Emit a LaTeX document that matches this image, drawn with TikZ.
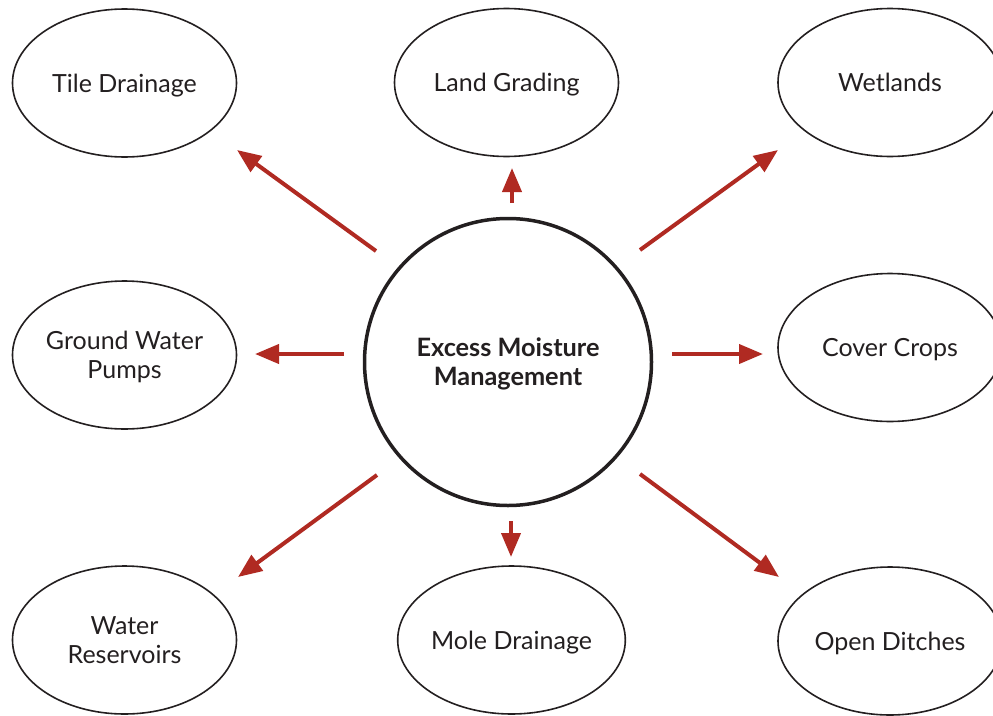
\documentclass[tikz,border=0pt]{standalone}
\usepackage{fontspec}
\setmainfont{Lato}
\usetikzlibrary{arrows.meta,shapes.geometric}
\definecolor{ink}{HTML}{231F20}
\definecolor{arrowred}{HTML}{B02A22}
\begin{document}
\begin{tikzpicture}[x=1pt,y=-1pt,
  option/.style={ellipse, draw=ink, line width=1.6pt, minimum width=224pt,
    minimum height=148pt, inner sep=0pt, align=center, text=ink,
    font=\fontsize{25}{29}\selectfont, text depth=0pt},
  hub/.style={circle, draw=ink, line width=3.5pt, minimum size=287pt,
    inner sep=0pt, align=center, text=ink,
    font=\bfseries\fontsize{25.3}{29}\selectfont, text depth=0pt},
  arr/.style={draw=arrowred, line width=4pt,
    -{Triangle[length=24pt,width=19pt]}}
]
\useasboundingbox (0,0) rectangle (993,715);
\clip (0,0) rectangle (993,715);

% central topic
\node[hub] (hub) at (508,362) {Excess Moisture\\Management};

% surrounding practices
\node[option] (tile)    at (124.5,83)   {Tile Drainage};
\node[option] (grading) at (506.5,82.5) {Land Grading};
\node[option] (wet)     at (890,82.5)   {Wetlands};
\node[option] (pumps)   at (124.5,355)  {Ground Water\\Pumps};
\node[option] (cover)   at (890,347.5)  {Cover Crops};
\node[option] (res)     at (124.5,640)  {Water\\Reservoirs};
\node[option] (mole)    at (511.5,640)  {Mole Drainage};
\node[option] (ditch)   at (890,641)    {Open Ditches};

% arrows from the hub outwards
\draw[arr] ([shift={(-132,-111)}]hub.center) -- ([shift={(112.5,67)}]tile.center);
\draw[arr] ([shift={(4,-159)}]hub.center)    -- ([shift={(5.5,85.5)}]grading.center);
\draw[arr] ([shift={(132,-112)}]hub.center)  -- ([shift={(-112,67.5)}]wet.center);
\draw[arr] ([shift={(-164,-8)}]hub.center)   -- ([shift={(130.5,-1)}]pumps.center);
\draw[arr] ([shift={(164,-8)}]hub.center)    -- ([shift={(-127,6.5)}]cover.center);
\draw[arr] ([shift={(-131,113)}]hub.center)  -- ([shift={(113.5,-63)}]res.center);
\draw[arr] ([shift={(3,159)}]hub.center)     -- ([shift={(-0.5,-83)}]mole.center);
\draw[arr] ([shift={(132,112)}]hub.center)   -- ([shift={(-111,-64)}]ditch.center);
\end{tikzpicture}
\end{document}
